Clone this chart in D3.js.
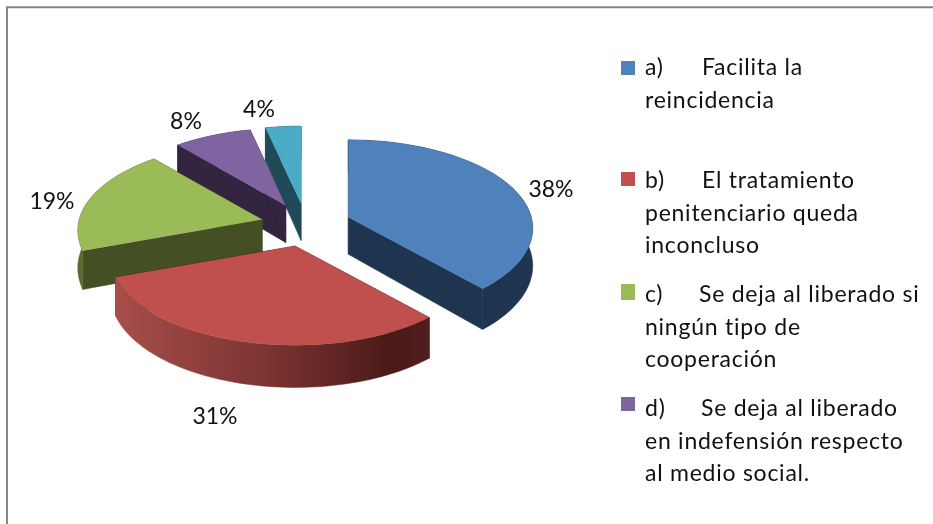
<!DOCTYPE html>
<html>
<head>
<meta charset="utf-8">
<script src="https://cdn.jsdelivr.net/npm/d3@7"></script>
<style>
  html, body { margin: 0; padding: 0; background: #fff; }
  svg { display: block; filter: blur(0.4px); }
  text { font-family: Lato, "Open Sans", sans-serif; fill: #111; }
</style>
</head>
<body>
<div id="chart"></div>
<script>
// chart values, slice sizes (labels are the rounded ones)
var categories = ["a", "b", "c", "d", "e"];
var values = [38.4, 31.0, 19.4, 7.7, 3.5];
var valueLabels = ["38%", "31%", "19%", "8%", "4%"];
var topColors = ["#4f81bd", "#c0504d", "#9bbb59", "#8064a2", "#4bacc6"];
var wallColors = ["#1f344f", "#4a1a18", "#444f24", "#33253f", "#1f4a57"];
var rimColors = ["#1f344f", "url(#rimRed)", "#5a6a2c", "#33253f", "#1f4a57"];

// legend text, one entry per line
var legendMarkers = ["a)", "b)", "c)", "d)"];
var legendFirstLine = ["Facilita la", "El tratamiento", "Se deja al liberado si", "Se deja al liberado"];
var legendOtherLines = [
    ["reincidencia"],
    ["penitenciario queda", "inconcluso"],
    ["ningún tipo de", "cooperación"],
    ["en indefensión respecto", "al medio social."]
];

var width = 933, height = 524;

var svg = d3.select("#chart").append("svg")
    .attr("width", width)
    .attr("height", height);

// frame
svg.append("path")
    .attr("d", "M7,524V7.2H933")
    .attr("fill", "none")
    .attr("stroke", "#868686")
    .attr("stroke-width", 2);

// pie layout, clockwise from the top, no sorting
var pie = d3.pie().sort(null).value(function(d) { return d; });
var slices = pie(values);

// perspective settings
var centerX = 306, centerY = 225;
var radiusX = 183, radiusY = 87, tilt = 0.1236;
var explodeX = 45.3, explodeY = 21.6;
var depth = 37;

function project(angle, r, slice) {
    var mid = (slice.startAngle + slice.endAngle) / 2;
    var apexX = centerX + explodeX * Math.sin(mid);
    var apexY = centerY - explodeY * Math.cos(mid);
    var gx = r * Math.sin(angle);
    var gz = -r * Math.cos(angle);
    var p = 1 / (1 - tilt * gz);
    return {
        x: apexX + radiusX * gx * p,
        y: apexY + radiusY * gz * p,
        drop: depth * p
    };
}

var line = d3.line().x(function(d) { return d.x; }).y(function(d) { return d.y; });

function arcPoints(slice) {
    var pts = d3.range(0, 61).map(function(i) {
        return slice.startAngle + (slice.endAngle - slice.startAngle) * i / 60;
    });
    return pts.map(function(a) { return project(a, 1, slice); });
}

function lowered(p) {
    return { x: p.x, y: p.y + p.drop };
}

// gradient for the red rim
var defs = svg.append("defs");
var redGrad = defs.append("linearGradient")
    .attr("id", "rimRed")
    .attr("gradientUnits", "userSpaceOnUse")
    .attr("x1", 114).attr("x2", 429).attr("y1", 0).attr("y2", 0);
redGrad.append("stop").attr("offset", "0%").attr("stop-color", "#a84e4b");
redGrad.append("stop").attr("offset", "50%").attr("stop-color", "#7a3331");
redGrad.append("stop").attr("offset", "88%").attr("stop-color", "#4a1a18");
redGrad.append("stop").attr("offset", "100%").attr("stop-color", "#511e1c");

// back to front
var drawOrder = [4, 3, 2, 0, 1];
var pieGroup = svg.append("g").attr("class", "pie");

drawOrder.forEach(function(i) {
    var slice = slices[i];
    var rim = arcPoints(slice);
    var apex = project(0, 0, slice);

    // the two flat cut faces
    [rim[0], rim[rim.length - 1]].forEach(function(p) {
        pieGroup.append("path")
            .attr("d", line([apex, p, lowered(p), lowered(apex)]) + "Z")
            .attr("fill", wallColors[i])
            .attr("stroke", wallColors[i])
            .attr("stroke-width", 0.5);
    });

    // outer curved face
    pieGroup.append("path")
        .attr("d", line(rim.concat(rim.map(lowered).reverse())) + "Z")
        .attr("fill", rimColors[i])
        .attr("stroke", rimColors[i])
        .attr("stroke-width", 0.5);

    // top face
    pieGroup.append("path")
        .attr("d", line([apex].concat(rim)) + "Z")
        .attr("fill", topColors[i]);
});

// value labels
var labelX = [551, 215, 52, 186, 259];
var labelY = [197, 424, 209, 129, 117];
svg.selectAll("text.value")
    .data(valueLabels)
    .enter().append("text")
    .attr("class", "value")
    .attr("x", function(d, i) { return labelX[i]; })
    .attr("y", function(d, i) { return labelY[i]; })
    .attr("text-anchor", "middle")
    .attr("font-size", 23)
    .text(function(d) { return d; });

// legend
var swatchY = [61, 172, 284, 397];
var swatchH = [14, 14, 16, 14];
var firstBaseline = [75, 188, 302, 416];
var firstX = [702, 702, 699, 701];
var legend = svg.append("g").attr("class", "legend")
    .attr("font-size", 23)
    .attr("letter-spacing", 0.75);

legendMarkers.forEach(function(m, i) {
    legend.append("rect")
        .attr("x", 621).attr("y", swatchY[i])
        .attr("width", 14).attr("height", swatchH[i])
        .attr("fill", topColors[i]);
    legend.append("text").attr("x", 645).attr("y", firstBaseline[i]).text(m);
    legend.append("text").attr("x", firstX[i]).attr("y", firstBaseline[i]).text(legendFirstLine[i]);
    legendOtherLines[i].forEach(function(t, j) {
        legend.append("text")
            .attr("x", 645)
            .attr("y", firstBaseline[i] + 32.5 * (j + 1))
            .text(t);
    });
});
</script>
</body>
</html>
